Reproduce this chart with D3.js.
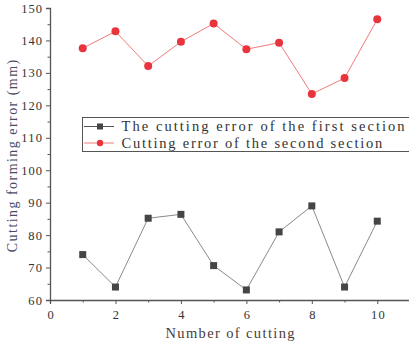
<!DOCTYPE html>
<html>
<head>
<meta charset="utf-8">
<script src="https://cdn.jsdelivr.net/npm/d3@7/dist/d3.min.js"></script>
<style>
  html, body { margin: 0; padding: 0; background: #fff; }
  svg { display: block; }
  text { font-family: "Liberation Serif", "DejaVu Serif", serif; }
</style>
</head>
<body>
<svg id="chart" width="409" height="345"></svg>
<script>
// Cutting runs and the measured forming error of each section (mm)
const cuts = [1, 2, 3, 4, 5, 6, 7, 8, 9, 10];
const firstSection = [74.0, 64.0, 85.2, 86.4, 70.6, 63.1, 81.0, 89.0, 64.0, 84.3];
const secondSection = [137.6, 142.8, 132.1, 139.6, 145.2, 137.3, 139.3, 123.5, 128.4, 146.5];
const xTicks = [0, 2, 4, 6, 8, 10];
const yTicks = [60, 70, 80, 90, 100, 110, 120, 130, 140, 150];
const seriesNames = ["The cutting error of the first section", "Cutting error of the second section"];

const svg = d3.select("#chart");
const x = d3.scaleLinear().domain([0, 11]).range([50, 410]);
const y = d3.scaleLinear().domain([60, 150]).range([300, 8]);

const axisColor = "#555";
// fixed advance per character, giving the serif text an even typewriter rhythm
const charW = 7.45;

// x axis with minor ticks at odd values
svg.append("g").attr("transform", `translate(0,${y(60)})`)
  .call(d3.axisBottom(x).tickValues(xTicks).tickSize(4).tickPadding(6).tickFormat(d3.format("d")));
svg.append("g").attr("transform", `translate(0,${y(60)})`)
  .call(d3.axisBottom(x).tickValues([1, 3, 5, 7, 9]).tickSize(2.5).tickFormat(""))
  .call(g => g.select(".domain").remove());

// y axis with minor ticks every 5
svg.append("g").attr("transform", `translate(${x(0)},0)`)
  .call(d3.axisLeft(y).tickValues(yTicks).tickSize(4).tickPadding(4).tickFormat(d3.format("d")));
svg.append("g").attr("transform", `translate(${x(0)},0)`)
  .call(d3.axisLeft(y).tickValues(d3.range(65, 150, 10)).tickSize(2.5).tickFormat(""))
  .call(g => g.select(".domain").remove());

svg.selectAll(".domain").attr("stroke", axisColor).attr("stroke-width", 1.3);
svg.selectAll(".tick line").attr("stroke", axisColor).attr("stroke-width", 1);
svg.selectAll(".tick text").attr("fill", "#333").style("font-size", "12.5px")
  .style("font-family", "'Liberation Serif', serif")
  .attr("textLength", d => String(d).length * 6.9).attr("lengthAdjust", "spacing");

// axis titles
const yTitle = "Cutting forming error (mm)";
svg.append("text")
  .attr("transform", `translate(16.5,${(8 + 300) / 2 + 2}) rotate(-90)`)
  .attr("text-anchor", "middle")
  .attr("fill", "#4a4a68")
  .style("font-size", "14px")
  .attr("textLength", yTitle.length * 7.4).attr("lengthAdjust", "spacing")
  .text(yTitle);

const xTitle = "Number of cutting";
svg.append("text")
  .attr("x", 230).attr("y", 338)
  .attr("text-anchor", "middle")
  .attr("fill", "#4a3c3c")
  .style("font-size", "14.5px")
  .attr("textLength", xTitle.length * 7.6).attr("lengthAdjust", "spacing")
  .text(xTitle);

// series lines and markers
const line = d3.line().x((d, i) => x(cuts[i])).y(d => y(d));

svg.append("path").datum(firstSection)
  .attr("d", line).attr("fill", "none")
  .attr("stroke", "#8a8a8a").attr("stroke-width", 1);
svg.append("path").datum(secondSection)
  .attr("d", line).attr("fill", "none")
  .attr("stroke", "#f07a7a").attr("stroke-width", 1);

const sq = 7;
svg.selectAll(".sq").data(firstSection).join("rect")
  .attr("x", (d, i) => x(cuts[i]) - sq / 2)
  .attr("y", d => y(d) - sq / 2)
  .attr("width", sq).attr("height", sq)
  .attr("fill", "#454545");

svg.selectAll(".dot").data(secondSection).join("circle")
  .attr("cx", (d, i) => x(cuts[i]))
  .attr("cy", d => y(d))
  .attr("r", 4)
  .attr("fill", "#e8353d");

// legend
const legend = svg.append("g");
legend.append("rect")
  .attr("x", 82.5).attr("y", 117.5).attr("width", 330).attr("height", 34)
  .attr("fill", "#fff").attr("stroke", "#555").attr("stroke-width", 1);

const rows = [
  { name: seriesNames[0], stroke: "#555", fill: "#454545", shape: "square", y: 126.5 },
  { name: seriesNames[1], stroke: "#f07a7a", fill: "#e8353d", shape: "circle", y: 143 }
];
rows.forEach(r => {
  legend.append("line")
    .attr("x1", 84).attr("x2", 114).attr("y1", r.y).attr("y2", r.y)
    .attr("stroke", r.stroke).attr("stroke-width", 1);
  if (r.shape === "square") {
    legend.append("rect").attr("x", 100 - 3).attr("y", r.y - 3)
      .attr("width", 6).attr("height", 6).attr("fill", r.fill);
  } else {
    legend.append("circle").attr("cx", 100).attr("cy", r.y).attr("r", 3.2).attr("fill", r.fill);
  }
  legend.append("text")
    .attr("x", 121.5).attr("y", r.y + 4.8)
    .attr("fill", "#333")
    .style("font-size", "14.5px")
    .attr("textLength", r.name.length * charW).attr("lengthAdjust", "spacing")
    .text(r.name);
});
</script>
</body>
</html>
